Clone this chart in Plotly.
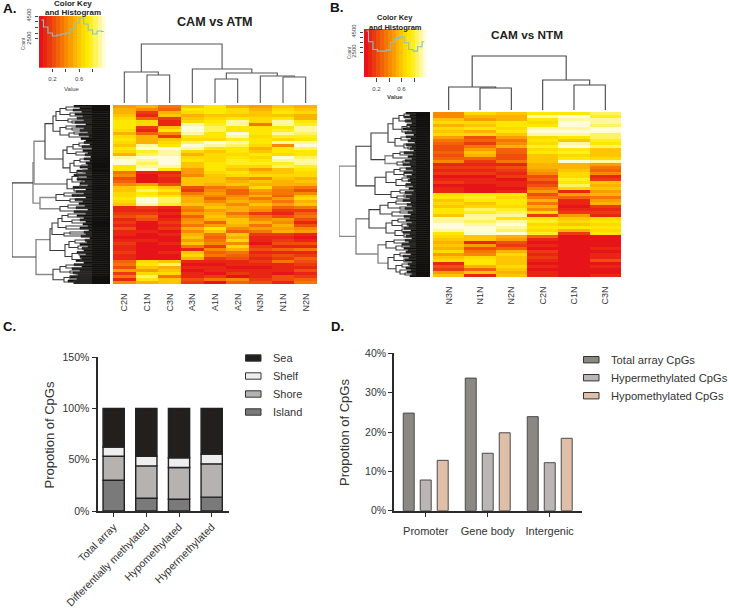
import plotly.graph_objects as go

W, H = 729, 609
FONT = "Liberation Sans"

# ---------------- data ----------------
samples_a = ["C2N", "C1N", "C3N", "A3N", "A1N", "A2N", "N3N", "N1N", "N2N"]
samples_b = ["N3N", "N1N", "N2N", "C2N", "C1N", "C3N"]

heat_a = [
[.45,.55,.32,.60,.70,.55,.48,.58,.52],[.55,.42,.30,.72,.74,.68,.56,.66,.60],[.50,.18,.55,.64,.72,.66,.60,.70,.66],
[.62,.12,.62,.56,.60,.62,.62,.62,.50],[.68,.30,.14,.62,.64,.72,.66,.72,.56],[.72,.66,.10,.66,.72,.90,.68,.92,.70],
[.72,.64,.12,.90,.78,.88,.36,.88,.78],[.70,.18,.60,.96,.84,.72,.72,.74,.90],[.66,.10,.70,.98,.86,.74,.74,.80,.92],
[.54,.26,.42,.88,.74,.94,.72,.88,.84],[.66,.52,.14,.70,.72,.92,.68,.80,.78],[.72,.50,.60,.68,.66,.78,.70,.66,.70],
[.68,.56,.66,.86,.94,.90,.74,.88,.90],[.60,.90,.72,.96,.92,.84,.66,.40,.95],[.72,.96,.94,.92,.70,.72,.55,.74,.86],
[.66,.80,.88,.66,.62,.72,.60,.70,.72],[.56,.86,.92,.56,.68,.68,.72,.68,.70],[.92,.95,.98,.66,.64,.72,.66,.95,.84],
[.96,.92,.99,.72,.66,.78,.70,.90,.88],[.94,.84,.96,.62,.72,.76,.76,.78,.92],[.72,.92,.92,.62,.70,.66,.66,.82,.80],
[.70,.94,.74,.44,.70,.60,.48,.60,.70],[.34,.10,.08,.44,.66,.72,.60,.58,.66],[.40,.06,.14,.42,.62,.66,.64,.66,.64],
[.24,.04,.10,.60,.60,.46,.38,.62,.56],[.30,.06,.12,.62,.58,.56,.60,.52,.60],[.42,.48,.22,.60,.50,.58,.52,.54,.56],
[.62,.72,.60,.20,.34,.40,.66,.42,.34],[.60,.84,.72,.16,.38,.26,.46,.36,.20],[.64,.70,.62,.34,.44,.28,.40,.34,.42],
[.68,.78,.74,.46,.42,.38,.52,.30,.60],[.72,.96,.82,.54,.30,.46,.36,.44,.64],[.68,.98,.84,.52,.40,.54,.44,.36,.52],
[.62,.90,.80,.60,.52,.42,.58,.48,.60],[.12,.16,.10,.38,.58,.50,.46,.26,.32],[.10,.10,.06,.32,.44,.52,.40,.16,.18],
[.14,.14,.08,.44,.52,.36,.18,.12,.30],[.22,.30,.05,.30,.60,.48,.32,.20,.36],[.08,.22,.08,.40,.56,.60,.38,.46,.24],
[.18,.06,.16,.44,.30,.62,.50,.42,.12],[.12,.04,.10,.32,.46,.54,.34,.50,.20],[.20,.06,.14,.52,.72,.38,.46,.44,.40],
[.10,.08,.06,.40,.60,.30,.34,.54,.46],[.08,.04,.10,.54,.34,.58,.14,.16,.08],[.06,.05,.06,.58,.26,.52,.10,.10,.06],
[.10,.08,.04,.46,.32,.66,.08,.14,.10],[.16,.04,.08,.62,.40,.42,.06,.20,.24],[.12,.06,.06,.34,.16,.64,.16,.08,.12],
[.08,.05,.05,.10,.42,.50,.20,.26,.34],[.14,.04,.08,.62,.30,.34,.12,.10,.08],[.12,.06,.06,.66,.36,.28,.14,.22,.16],
[.08,.05,.05,.50,.18,.22,.10,.16,.28],[.30,.66,.58,.08,.10,.12,.16,.36,.20],[.36,.70,.84,.06,.06,.08,.10,.08,.14],
[.24,.62,.52,.12,.08,.06,.06,.08,.10],[.46,.44,.60,.06,.12,.10,.08,.12,.24],[.16,.68,.66,.10,.06,.14,.10,.06,.08],
[.32,.86,.36,.08,.16,.06,.12,.20,.14],[.12,.70,.62,.20,.34,.40,.18,.24,.30],[.40,.56,.60,.14,.06,.30,.24,.10,.36],
]

heat_b = [
[.38,.66,.58,.74,.72,.82],[.40,.50,.52,.88,.96,.76],[.62,.46,.54,.70,.92,.88],[.68,.68,.70,.66,.97,.92],
[.56,.62,.72,.74,.94,.86],[.64,.70,.66,.88,.90,.94],[.60,.56,.72,.94,.98,.96],[.66,.68,.62,.92,.90,.86],
[.44,.20,.44,.68,.70,.84],[.36,.30,.36,.70,.62,.78],[.30,.14,.42,.66,.92,.72],[.24,.34,.50,.80,.96,.82],
[.22,.44,.26,.66,.74,.62],[.26,.58,.30,.72,.76,.60],[.24,.56,.22,.58,.66,.62],[.30,.30,.20,.62,.72,.64],
[.38,.14,.34,.60,.98,.90],[.10,.08,.12,.52,.56,.46],[.14,.16,.24,.50,.54,.34],[.08,.10,.14,.44,.60,.30],
[.16,.14,.10,.40,.68,.40],[.06,.06,.14,.22,.64,.08],[.10,.12,.06,.26,.80,.14],[.14,.08,.12,.18,.74,.62],
[.06,.06,.10,.20,.86,.56],[.08,.04,.06,.34,.66,.62],[.12,.06,.10,.46,.10,.44],[.66,.74,.70,.22,.44,.52],
[.70,.78,.68,.32,.30,.36],[.62,.72,.72,.54,.08,.46],[.66,.60,.70,.36,.12,.56],[.58,.64,.66,.50,.06,.14],
[.70,.86,.76,.42,.10,.10],[.72,.78,.84,.66,.14,.18],[.62,.90,.88,.14,.46,.12],[.88,.92,.74,.72,.58,.64],
[.92,.84,.88,.76,.64,.70],[.98,.90,.94,.68,.60,.66],[.99,.96,.92,.72,.74,.72],[.90,.94,.82,.64,.56,.68],
[.74,.98,.98,.78,.14,.72],[.66,.60,.56,.26,.04,.06],[.60,.62,.46,.08,.06,.05],[.52,.12,.22,.06,.04,.06],
[.62,.46,.18,.10,.05,.04],[.50,.24,.30,.06,.06,.10],[.64,.34,.50,.14,.04,.06],[.44,.40,.66,.08,.05,.12],
[.60,.66,.58,.18,.04,.08],[.66,.74,.62,.12,.06,.20],[.12,.70,.58,.06,.05,.06],[.20,.52,.66,.10,.04,.10],
[.16,.30,.60,.06,.06,.06],[.44,.62,.56,.08,.05,.04],[.58,.12,.60,.10,.04,.08],
]

heat_colors = ["#E61318","#E92614","#EC3A10","#EF4E0C","#F26208","#F57604","#F88A00","#FA9E00",
               "#FCB200","#FDC600","#FEDA00","#FFE800","#FFEF20","#FFF360","#FFF8A0","#FFFCDA"]
key_edges = [0,.0625,.125,.1875,.25,.3125,.375,.4375,.5,.5625,.625,.6875,.75,.8125,.875,.9375,1]
key_levels = [.03,.09,.16,.22,.28,.34,.41,.47,.53,.59,.66,.72,.78,.84,.91,.97]

hist_x_a = [.033,.1,.167,.233,.3,.367,.433,.5,.567,.633,.7,.767,.833,.9,.967]
hist_a = [4150,3540,3020,2760,2850,2930,3020,3370,3890,4330,3800,3280,2930,3190,3150]
hist_x_b = [.036,.107,.179,.25,.321,.393,.464,.536,.607,.679,.75,.821,.893,.964]
hist_b = [4600,3520,2750,2585,2585,2685,3520,3860,4030,3420,2750,2585,3020,3520]

# nested clusters: [height, branch, branch], optional "g" = lighter branch; plain numbers are leaves
tree_top_a = [59,[31,0,[28,1,2]],[34,3,[30,[24,4,5],[27,6,[26,7,8]]]]]
tree_top_b = [54,[23,0,[22,1,2]],[30,3,[25,4,5]]]

tree_left_a = [98,
 [77,
  [76,
   [65,
    [57,
     [54,[50,[44,2,5],[40,8,11]],[42,14,[38,16,18]]],
     [50,[44,21,[38,23,25]],[41,[36,27,29],32]]],
    [47,
     [43,[37,[31,38,41],44],[34,47,50]],
     [40,[36,[30,54,57],[28,60,62]],[33,[27,65,67],69]]]],
   [43,[38,[32,70,73],[28,76,78]],[36,[30,80,83],86]],"g"],
  [70,[54,[46,88,91],[40,94,97]],[50,[42,100,103],106],"g"],"g"],
 [74,
  [60,
   [58,[52,[48,[42,109,112],[38,115,118]],[44,121,124]],[46,[40,127,129],131]],
   [45,[41,[35,135,138],[32,141,144]],[38,[31,147,150],[29,153,156]]]],
  [57,[50,[44,160,163],[40,166,168]],[46,[40,[34,170,172],174],[36,176,178]]],"g"]]

tree_left_b = [91,
 [74,
  [59,
   [42,[37,[31,[26,2,5],[24,8,10]],[28,[23,13,16],[22,19,21]]],[35,[29,25,28],[26,32,[22,35,37]]]],
   [45,[37,[30,40,43],46],[33,[27,49,51],53],"g"]],
  [55,
   [44,[36,[30,56,59],[26,61,64]],[34,[28,66,69],[24,72,75]]],
   [39,[30,78,81],[33,[26,83,85],87]]]],
 [74,
  [61,
   [50,[42,[34,89,92],[30,95,97]],[38,[30,99,101],104]],
   [44,[38,[32,107,110],[28,112,115]],[35,[28,117,120],[26,122,125]]]],
  [52,
   [44,[36,128,131],[34,[28,133,135],138]],
   [42,[36,[30,141,144],[26,147,150]],[34,[28,152,155],[30,158,[25,161,163]]]],"g"],"g"],
 "g"]

leaf_edge_a = [36,30,37,28,35,27,33,26,35,24,34,26,30,22,31,21,29,24,26,20,28,18,27,22,25,19,26,20,24,22,
               30,22,33,24,36,23,33,25,30,22,37,24,34,26,38,24,35,27,31,25,34,22,36,24,33,26,30,24,
               27,22,30,21,26,24,29,20,25,23,30,22,28,26,33,24,30,28,34,26,36,28,38,30,37,32,40,33,
               42,36]
leaf_edge_b = [24,20,26,19,25,18,23,20,27,18,25,16,24,19,22,15,24,18,20,16,26,17,22,18,25,20,27,19,24,
               17,26,18,23,20,22,19,24,17,21,16,25,18,24,20,27,19,23,18,25,17,22,19,26,20,24,18,23,
               21,26,19,27,20,24,18,25,21,28,20,26,22,24,19,27,21,25,18,22,20,24,19,23,18,20]

categories_c = ["Total array", "Differentially methylated", "Hypomethylated", "Hypermethylated"]
island = [30, 12.5, 11.5, 13.5]
shore = [23.5, 31.5, 31, 32.5]
shelf = [9, 9.5, 9.5, 9.5]
sea = [37.5, 46.5, 48, 44.5]
base_shore = [30, 12.5, 11.5, 13.5]
base_shelf = [53.5, 44, 42.5, 46]
base_sea = [62.5, 53.5, 52, 55.5]
ticks_c = ["0%", "50%", "100%", "150%"]

categories_d = ["Promoter", "Gene body", "Intergenic"]
total_cpg = [24.8, 33.7, 23.9]
hyper_cpg = [7.8, 14.6, 12.2]
hypo_cpg = [12.8, 19.8, 18.4]
ticks_d = ["0%", "10%", "20%", "30%", "40%"]

# ---------------- helpers ----------------
fig = go.Figure()
layout = {}
ann = []
shapes = []
axis_count = 0
steps = []
for i, c in enumerate(heat_colors):
    steps += [[i / 16, c], [(i + 1) / 16, c]]

def new_axes(x0, x1, y0, y1, xa, ya):
    global axis_count
    axis_count += 1
    s = "" if axis_count == 1 else str(axis_count)
    base = dict(showgrid=False, zeroline=False, showline=False, showticklabels=False, ticks="", automargin=False)
    xd = {**base, "domain": [x0 / W, x1 / W], "anchor": "y" + s, **xa}
    yd = {**base, "domain": [1 - y1 / H, 1 - y0 / H], "anchor": "x" + s, **ya}
    layout["xaxis" + s] = xd
    layout["yaxis" + s] = yd
    return "x" + s, "y" + s

def text(t, x, y, size, color="#222", bold=False, angle=0, anchor="center"):
    ann.append(dict(text=f"<b>{t}</b>" if bold else t, x=x / W, y=1 - y / H, xref="paper", yref="paper",
                    showarrow=False, xanchor=anchor, yanchor="middle", textangle=angle,
                    font=dict(family=FONT, size=size, color=color)))

def place_tree(node, lines):
    """Return (position, height) of a node, adding bracket lines to lines[dark|grey]."""
    if not isinstance(node, list):
        return node, None
    h, a, b = node[0], node[1], node[2]
    pa, ha = place_tree(a, lines)
    pb, hb = place_tree(b, lines)
    lines["g" if len(node) > 3 else "d"].append((h, pa, ha, pb, hb))
    return (pa + pb) / 2, h

def draw_tree(tree, xa, ya, horizontal, leaf_h, dark="#3a3a3a", grey="#8a8a8a"):
    lines = {"d": [], "g": []}
    place_tree(tree, lines)
    for key, col, wid in (("g", grey, 1.4), ("d", dark, 1.1)):
        xs, ys = [], []
        for h, pa, ha, pb, hb in lines[key]:
            ha = leaf_h if ha is None else ha
            hb = leaf_h if hb is None else hb
            hh = [ha, h, h, hb, None]
            pp = [pa, pa, pb, pb, None]
            xs += hh if horizontal else pp
            ys += pp if horizontal else hh
        fig.add_trace(go.Scatter(x=xs, y=ys, mode="lines", xaxis=xa, yaxis=ya, cliponaxis=False,
                                 line=dict(color=col, width=wid), hoverinfo="skip"))

def heat_panel(rows, samples, rect, label_len):
    x0, x1, y0, y1 = rect
    n, m = len(samples), len(rows)
    xa, ya = new_axes(x0, x1, y0, y1,
                      dict(range=[-.5, n - .5], tickmode="array", tickvals=list(range(n)), ticktext=samples,
                           showticklabels=True, tickangle=-90, ticks="outside", ticklen=label_len,
                           tickcolor="rgba(0,0,0,0)", tickfont=dict(family=FONT, size=9, color="#333")),
                      dict(range=[m - .5, -.5]))
    fig.add_trace(go.Heatmap(z=rows, xaxis=xa, yaxis=ya, zmin=0, zmax=1, colorscale=steps, showscale=False,
                             hoverinfo="skip"))

def color_key(rect, top, hist_x, hist_y):
    x0, x1, y0, y1 = rect
    xa, ya = new_axes(x0, x1, y0, y1,
        dict(range=[0, 1], tickmode="array", tickvals=[.2, .4, .6, .8], ticktext=["0.2", "", "0.6", ""],
             showticklabels=True, ticks="outside", ticklen=3.5, tickwidth=.8, tickcolor="#444", ticklabelstandoff=2,
             tickfont=dict(family=FONT, size=6, color="#444")),
        dict(range=[0, top], tickmode="array", tickvals=[2500, 3000, 3500, 4000, 4500],
             ticktext=["2500", "", "", "", "4500"], showticklabels=True, ticks="outside", ticklen=3.5,
             tickwidth=.8, tickcolor="#444", tickangle=-90, ticklabelstandoff=1,
             tickfont=dict(family=FONT, size=6, color="#444")))
    fig.add_trace(go.Heatmap(z=[key_levels], x=key_edges, y=[0, top], xaxis=xa, yaxis=ya, zmin=0, zmax=1,
                             colorscale=steps, showscale=False, hoverinfo="skip"))
    fig.add_trace(go.Scatter(x=hist_x, y=hist_y, xaxis=xa, yaxis=ya, mode="lines",
                             line=dict(color="#84C3C8", width=1.1, shape="hvh"), hoverinfo="skip"))

def leaf_block(values, rect):
    x0, x1, y0, y1 = rect
    xa, ya = new_axes(x0, x1, y0, y1, dict(range=[x1 - x0, 0]), dict(range=[len(values) - .5, -.5]))
    fig.add_trace(go.Bar(x=values, y=list(range(len(values))), orientation="h", width=1, xaxis=xa, yaxis=ya,
                         marker=dict(color="#12110D", line=dict(color="#12110D", width=.6)), hoverinfo="skip"))

# ---------------- panel A ----------------
color_key((39, 106, 16, 67.7), 4500, hist_x_a, hist_a)
heat_panel(heat_a, samples_a, (113, 317, 105, 284), 5)
xa, ya = new_axes(113, 317, 43, 103, dict(range=[-.5, 8.5]), dict(range=[0, 60]))
draw_tree(tree_top_a, xa, ya, False, 0, dark="#555555", grey="#777777")
leaf_block(leaf_edge_a, (12, 110, 105, 284))
xa, ya = new_axes(12, 110, 105, 284, dict(range=[98, 0]), dict(range=[179, 0]))
draw_tree(tree_left_a, xa, ya, True, 18)

# ---------------- panel B ----------------
color_key((364, 426.5, 29, 77), 4800, hist_x_b, hist_b)
heat_panel(heat_b, samples_b, (433, 621, 112, 277), 5)
xa, ya = new_axes(433, 621, 50, 110, dict(range=[-.5, 5.5]), dict(range=[0, 60]))
draw_tree(tree_top_b, xa, ya, False, 0, dark="#444444", grey="#777777")
leaf_block(leaf_edge_b, (339, 430, 112, 277))
xa, ya = new_axes(339, 430, 112, 277, dict(range=[91, 0]), dict(range=[165, 0]))
draw_tree(tree_left_b, xa, ya, True, 14)

# ---------------- panel C ----------------
axis_style = dict(showline=True, linecolor="#2a2a2a", linewidth=1.6, ticks="outside", tickcolor="#2a2a2a",
                  tickwidth=1.4, showticklabels=True)
xa, ya = new_axes(98.3, 228.7, 357.3, 511,
    dict(**axis_style, range=[-.47, 3.52], tickmode="array", tickvals=[0, 1, 2, 3], ticktext=categories_c,
         tickangle=-45, ticklen=4, tickfont=dict(family=FONT, size=10.5, color="#333")),
    dict(**axis_style, range=[0, 150], tickmode="array", tickvals=[0, 50, 100, 150], ticktext=ticks_c, ticklen=5,
         tickfont=dict(family=FONT, size=10.5, color="#333")))
for vals, base, col in ((island, None, "#7A7A7A"), (shore, base_shore, "#B5B2B0"),
                        (shelf, base_shelf, "#EEEEEE"), (sea, base_sea, "#221F1C")):
    fig.add_trace(go.Bar(x=[0, 1, 2, 3], y=vals, base=base, width=.65, xaxis=xa, yaxis=ya,
                         marker=dict(color=col, line=dict(color="#222", width=1.4)), hoverinfo="skip"))

# ---------------- panel D ----------------
xa, ya = new_axes(394, 581.7, 353.3, 510.7,
    dict(**axis_style, range=[-.511, 2.516], tickmode="array", tickvals=[0, 1, 2], ticktext=categories_d,
         ticklen=4, ticklabelstandoff=5, tickfont=dict(family=FONT, size=11, color="#333")),
    dict(**axis_style, range=[0, 40], tickmode="array", tickvals=[0, 10, 20, 30, 40], ticktext=ticks_d, ticklen=4,
         tickfont=dict(family=FONT, size=10.5, color="#333")))
for k, (vals, col) in enumerate(((total_cpg, "#8B8783"), (hyper_cpg, "#B9B6B5"), (hypo_cpg, "#E0BFA8"))):
    fig.add_trace(go.Bar(x=[0, 1, 2], y=vals, width=.177, offset=-.362 + k * .274, xaxis=xa, yaxis=ya,
                         marker=dict(color=col, line=dict(color="#4a4a4a", width=1)), hoverinfo="skip"))

# ---------------- text and legends ----------------
text("A.", 1, 9, 13.5, "#111", True, anchor="left")
text("B.", 328, 8, 13.5, "#111", True, anchor="left")
text("C.", 1, 326, 13, "#111", True, anchor="left")
text("D.", 329, 326, 13, "#111", True, anchor="left")
text("CAM vs ATM", 215, 22, 12.6, "#222", True)
text("CAM vs NTM", 527, 35, 11.8, "#222", True)
text("Color Key", 72.5, 4, 8, "#222", True)
text("and Histogram", 72.5, 13, 8, "#222", True)
text("Color Key", 395, 18, 7.5, "#222", True)
text("and Histogram", 395, 27, 7.5, "#222", True)
text("Value", 72, 89, 6, "#444")
text("Value", 395, 97, 6, "#444", True)
text("Count", 23, 43, 4.5, "#555", angle=-90)
text("Count", 349, 53, 4.5, "#555", angle=-90)
text("Propotion of CpGs", 48.5, 435, 13, "#333", angle=-90)
text("Propotion of CpGs", 344, 433, 13, "#333", angle=-90)

def legend_rows(x0, x1, tx, size, rows):
    for y, name, col in rows:
        shapes.append(dict(type="rect", xref="paper", yref="paper", x0=x0 / W, x1=x1 / W, y0=1 - (y + 3.2) / H,
                           y1=1 - (y - 3.2) / H, fillcolor=col, line=dict(color="#333", width=1)))
        text(name, tx, y, size, "#333", anchor="left")

legend_rows(245.5, 261, 271, 11, [(358, "Sea", "#221F1C"), (376, "Shelf", "#EEEEEE"),
                                  (394, "Shore", "#B5B2B0"), (412, "Island", "#7A7A7A")])
legend_rows(583.5, 599, 609, 11.2, [(359.7, "Total array CpGs", "#8B8783"), (377.7, "Hypermethylated CpGs", "#B9B6B5"),
                                    (395.7, "Hypomethylated CpGs", "#E0BFA8")])

fig.update_layout(template="none", width=W, height=H, margin=dict(l=0, r=0, t=0, b=0, pad=0, autoexpand=False),
                  paper_bgcolor="white", plot_bgcolor="rgba(0,0,0,0)",
                  showlegend=False, barmode="overlay", annotations=ann, shapes=shapes,
                  font=dict(family=FONT), **layout)
fig.write_html("out.html", config={"displayModeBar": False},
               post_script="document.body.style.margin='0';document.documentElement.style.overflow='hidden';")
